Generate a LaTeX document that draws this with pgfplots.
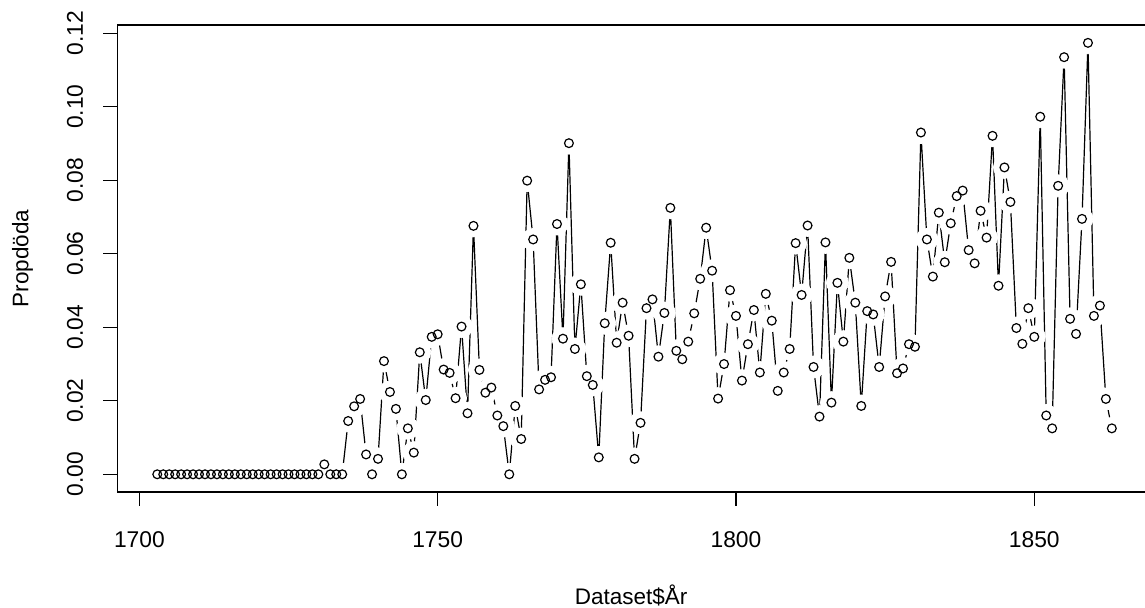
\documentclass[border=0pt]{standalone}
\usepackage{fontspec}
\setmainfont{Liberation Sans}
\usepackage{pgfplots}
\usepackage{pgfplotstable}
\pgfplotsset{compat=1.18}
\pgfplotstableread{
year val
1703 0
1704 0
1705 0
1706 0
1707 0
1708 0
1709 0
1710 0
1711 0
1712 0
1713 0
1714 0
1715 0
1716 0
1717 0
1718 0
1719 0
1720 0
1721 0
1722 0
1723 0
1724 0
1725 0
1726 0
1727 0
1728 0
1729 0
1730 0
1731 0.0027
1732 0
1733 0
1734 0
1735 0.0145
1736 0.0185
1737 0.0205
1738 0.0054
1739 0
1740 0.0042
1741 0.0308
1742 0.0224
1743 0.0178
1744 0
1745 0.0125
1746 0.0059
1747 0.0332
1748 0.0202
1749 0.0374
1750 0.0381
1751 0.0285
1752 0.0276
1753 0.0207
1754 0.0402
1755 0.0166
1756 0.0676
1757 0.0284
1758 0.0222
1759 0.0236
1760 0.0160
1761 0.0131
1762 0
1763 0.0186
1764 0.0096
1765 0.0799
1766 0.0639
1767 0.0231
1768 0.0257
1769 0.0264
1770 0.0681
1771 0.0369
1772 0.0901
1773 0.0341
1774 0.0517
1775 0.0267
1776 0.0243
1777 0.0046
1778 0.0411
1779 0.0630
1780 0.0358
1781 0.0467
1782 0.0377
1783 0.0042
1784 0.0140
1785 0.0452
1786 0.0476
1787 0.0320
1788 0.0439
1789 0.0725
1790 0.0336
1791 0.0313
1792 0.0361
1793 0.0438
1794 0.0532
1795 0.0671
1796 0.0554
1797 0.0206
1798 0.0300
1799 0.0501
1800 0.0431
1801 0.0255
1802 0.0354
1803 0.0447
1804 0.0277
1805 0.0491
1806 0.0418
1807 0.0227
1808 0.0277
1809 0.0341
1810 0.0629
1811 0.0488
1812 0.0677
1813 0.0292
1814 0.0157
1815 0.0631
1816 0.0195
1817 0.0521
1818 0.0361
1819 0.0589
1820 0.0467
1821 0.0186
1822 0.0444
1823 0.0435
1824 0.0292
1825 0.0484
1826 0.0578
1827 0.0275
1828 0.0288
1829 0.0354
1830 0.0347
1831 0.0930
1832 0.0639
1833 0.0538
1834 0.0712
1835 0.0577
1836 0.0683
1837 0.0757
1838 0.0772
1839 0.0610
1840 0.0574
1841 0.0717
1842 0.0644
1843 0.0921
1844 0.0513
1845 0.0835
1846 0.0741
1847 0.0398
1848 0.0355
1849 0.0452
1850 0.0374
1851 0.0973
1852 0.0160
1853 0.0125
1854 0.0785
1855 0.1135
1856 0.0423
1857 0.0382
1858 0.0695
1859 0.1174
1860 0.0431
1861 0.0459
1862 0.0205
1863 0.0125
}\data
\begin{document}
\begin{tikzpicture}
\begin{axis}[
  at={(0,0)}, anchor=south west,
  scale only axis,
  width=513.85pt, height=233.5pt,
  xmin=1696.3, xmax=1868.56,
  ymin=-0.004816, ymax=0.12226,
  axis line style={draw=none},
  xtick={1700,1750,1800,1850},
  ytick={0,0.02,0.04,0.06,0.08,0.1,0.12},
  xtick pos=bottom, ytick pos=left,
  tick align=outside,
  major tick length=7pt,
  minor tick num=0,
  tick style={black, line width=0.6pt},
  scaled y ticks=false,
  /pgf/number format/assume math mode=true,
  xticklabel style={/pgf/number format/1000 sep={}, anchor=center, yshift=-17pt, font=\fontsize{11.4pt}{13pt}\selectfont},
  yticklabel style={/pgf/number format/fixed, /pgf/number format/fixed zerofill, /pgf/number format/precision=2, xshift=-14.15pt, rotate=90, anchor=center, font=\fontsize{11.4pt}{13pt}\selectfont},
  xlabel={Dataset\$År},
  ylabel={Propdöda},
  xlabel style={at={(axis description cs:0.5,-0.2206)}, anchor=center, font=\fontsize{11.25pt}{13pt}\selectfont},
  ylabel style={at={(axis description cs:-0.0922,0.5)}, anchor=center, font=\fontsize{11.25pt}{13pt}\selectfont},
]
\addplot[black, line width=0.6pt, no markers] table[x=year,y=val]{\data};
\addplot[only marks, mark=*, mark size=5.5pt, mark options={draw=white, fill=white}] table[x=year,y=val]{\data};
\addplot[only marks, mark=o, mark size=2.2pt, mark options={line width=0.6pt, draw=black}] table[x=year,y=val]{\data};
\end{axis}
\draw[black, line width=0.65pt, line join=miter] (513.85pt,233.5pt) -- (0pt,233.5pt) -- (0pt,0pt) -- (513.85pt,0pt);
\pgfresetboundingbox
\useasboundingbox (-58.65pt,-58pt) rectangle (513.85pt,246pt);
\end{tikzpicture}
\end{document}
